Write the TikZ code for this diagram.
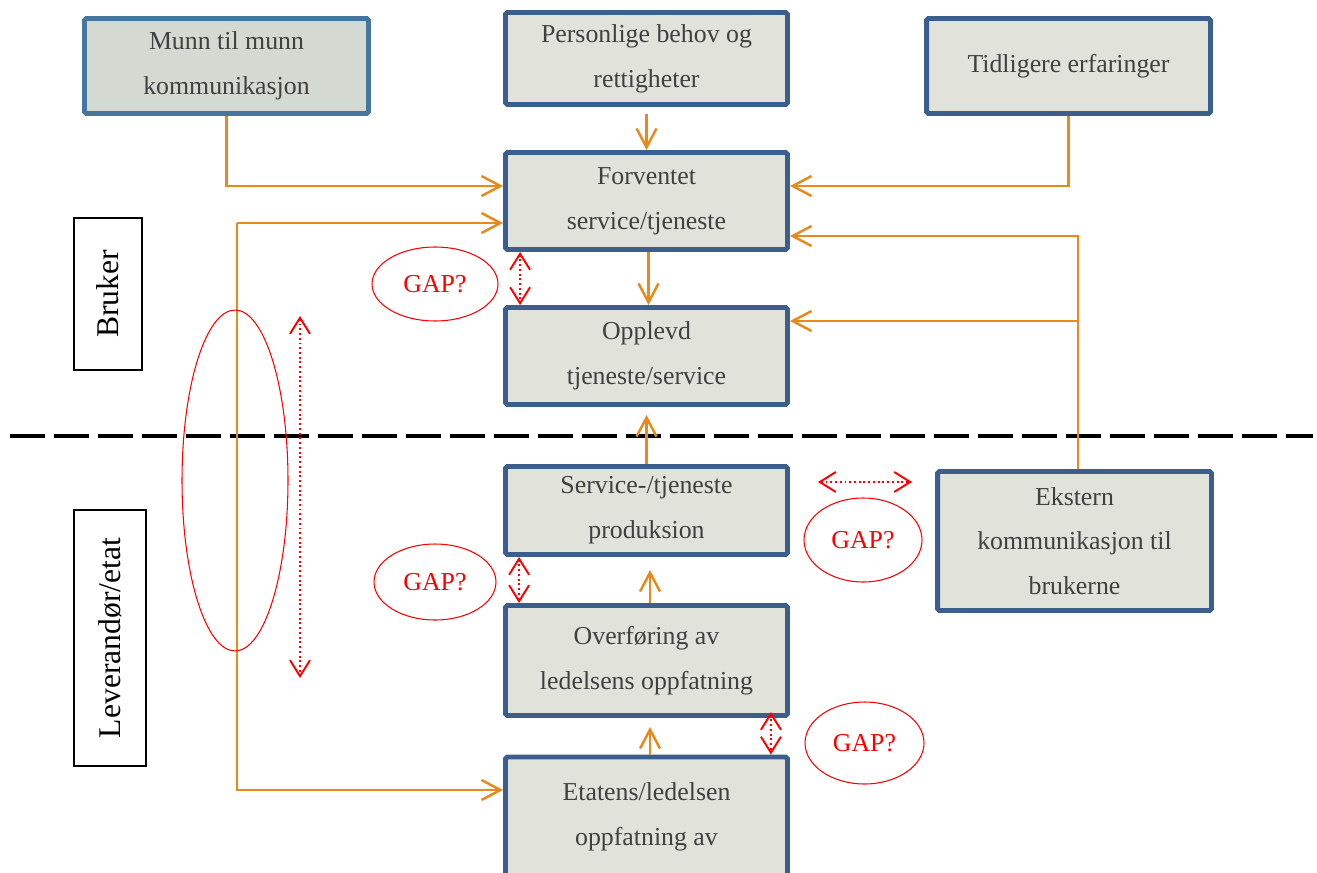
\documentclass[tikz,border=0pt]{standalone}
\usepackage{fontspec}
\setmainfont{Liberation Serif}
\usetikzlibrary{arrows.meta,shapes.geometric}
\definecolor{bl}{HTML}{3B5E8C}
\definecolor{bl2}{HTML}{44769E}
\definecolor{fy}{HTML}{E1E3DB}
\definecolor{fy2}{HTML}{D4D9D1}
\definecolor{oransj}{HTML}{E8891C}
\definecolor{tx}{HTML}{404040}
\tikzset{
  boks/.style={draw=bl, line width=2.8pt, fill=fy, rounded corners=1pt, text=tx, align=center,
    font=\fontsize{14.7}{25.5}\selectfont, minimum width=5.64cm},
  pil/.style={oransj, line width=1.4pt, -{Straight Barb[length=3.8mm,width=4mm]}},
  gappil/.style={red, line width=1.1pt, dash pattern=on 1.1pt off 1.6pt,
    {Straight Barb[length=3.2mm,width=4mm]}-{Straight Barb[length=3.2mm,width=4mm]}},
  gap/.style={ellipse, draw=red, line width=0.6pt, text=red, font=\fontsize{14.7}{18}\selectfont, inner sep=0pt},
  side/.style={draw, line width=0.8pt, font=\fontsize{18}{20}\selectfont, rotate=90}
}
\begin{document}
\begin{tikzpicture}[x=0.02cm,y=-0.02cm]
  \useasboundingbox (0,0) rectangle (1317,872);

  % bruker side
  \node[boks, draw=bl2, fill=fy2, minimum width=5.68cm, minimum height=1.9cm] (munn) at (226.5,66) {Munn til munn\\kommunikasjon};
  \node[boks, minimum height=1.84cm] (behov) at (646.5,58.5) {Personlige behov og\\rettigheter};
  \node[boks, minimum width=5.68cm, minimum height=1.9cm] (tidl) at (1068.5,66) {Tidligere erfaringer};
  \node[boks, minimum height=1.94cm] (forv) at (646.5,201) {Forventet\\service/tjeneste};
  \node[boks, minimum height=1.94cm] (opplevd) at (646.5,356) {Opplevd\\tjeneste/service};

  % leverandør side
  \node[boks, minimum height=1.76cm] (prod) at (646.5,510.5) {Service-/tjeneste\\produksion};
  \node[boks, minimum width=5.48cm, minimum height=2.78cm] (ekstern) at (1074.5,541) {Ekstern\\kommunikasjon til\\brukerne};
  \node[boks, minimum height=2.2cm] (overf) at (646.5,660.5) {Overføring av\\ledelsens oppfatning};
  \node[boks, minimum height=2.4cm] (etat) at (646.5,817) {Etatens/ledelsen\\oppfatning av};

  \node[side, minimum width=3.04cm, minimum height=1.36cm] (bruker) at (108,294) {Bruker};
  \node[side, minimum width=5.12cm, minimum height=1.44cm] (lev) at (110,638) {Leverandør/etat};

  \draw[line width=2.3pt, dash pattern=on 0.7cm off 0.18cm] (10,436) -- (1313,436);

  % piler
  \coordinate (lt) at (237,223);
  \coordinate (lb) at (237,790);
  \coordinate (et) at (1078,236);
  \coordinate (eb) at (1078,321);
  \draw[pil] (munn.south) |- ([yshift=0.3cm]forv.west);
  \draw[pil] ([yshift=-0.14cm]behov.south) -- (forv.north);
  \draw[pil] (tidl.south) |- ([yshift=0.3cm]forv.east);
  \draw[pil] ([xshift=0.04cm]forv.south) -- ([xshift=0.04cm]opplevd.north);
  \draw[pil] (lt) -- (forv.west |- lt);
  \draw[pil] (lt) -- (lb) -- (etat.west |- lb);
  \draw[pil] (ekstern.north -| et) -- (et) -- (forv.east |- et);
  \draw[pil] (eb) -- (opplevd.east |- eb);
  \draw[pil, shorten >=0.16cm] (prod.north) -- (opplevd.south);
  \draw[pil, shorten >=0.26cm] ([xshift=0.07cm]overf.north) -- ([xshift=0.07cm]prod.south);
  \draw[pil, shorten >=0.18cm] ([xshift=0.07cm]etat.north) -- ([xshift=0.07cm]overf.south);

  % gap
  \node[gap, minimum width=2.52cm, minimum height=1.48cm] (gap1) at (435,284) {GAP?};
  \node[gap, minimum width=2.44cm, minimum height=1.52cm] (gap2) at (435,582) {GAP?};
  \node[gap, minimum width=2.36cm, minimum height=1.68cm] (gap3) at (863,540) {GAP?};
  \node[gap, minimum width=2.38cm, minimum height=1.64cm] (gap4) at (864.5,743) {GAP?};
  \node[gap, minimum width=2.12cm, minimum height=6.82cm] (skille) at (235,480.5) {};

  \coordinate (ga) at (818,482);
  \coordinate (gb) at (912,482);
  \coordinate (va) at (300,316);
  \coordinate (vb) at (300,678);
  \draw[gappil] ([xshift=0.34cm]forv.south west) -- ([xshift=0.34cm]opplevd.north west);
  \draw[gappil] ([xshift=0.32cm]prod.south west) -- ([xshift=0.32cm]overf.north west);
  \draw[gappil] ([xshift=-0.38cm,yshift=0.12cm]overf.south east) -- ([xshift=-0.38cm]etat.north east);
  \draw[gappil] (ga) -- (gb);
  \draw[gappil] (va) -- (vb);
\end{tikzpicture}
\end{document}
